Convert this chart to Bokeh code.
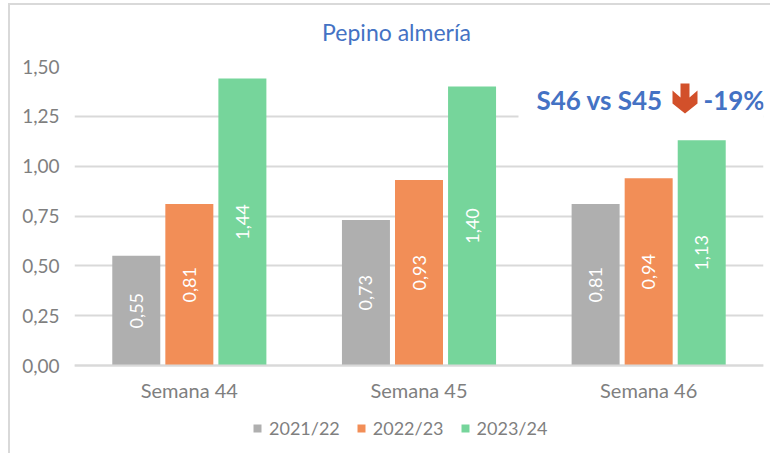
from bokeh.plotting import figure
from bokeh.models import (ColumnDataSource, FactorRange, Range1d, FixedTicker, Label, BoxAnnotation,
                          PolyAnnotation, Legend, LegendItem)
from bokeh.transform import dodge
from bokeh.core.properties import value
from bokeh.embed import file_html
from bokeh.resources import INLINE
import math

semanas = ["Semana 44", "Semana 45", "Semana 46"]
s2122 = [0.55, 0.73, 0.81]
s2223 = [0.81, 0.93, 0.94]
s2324 = [1.44, 1.40, 1.13]
series = ["2021/22", "2022/23", "2023/24"]
colores = ["#AFAFAF", "#F28E57", "#76D59B"]
ticks = [0, 0.25, 0.5, 0.75, 1.0, 1.25, 1.5]
tick_labels = ["0,00", "0,25", "0,50", "0,75", "1,00", "1,25", "1,50"]
titulo = "Pepino almería"
nota_a = "S46 vs S45"
nota_b = "-19%"

FONT = "Lato"
GREY = "#7F7F7F"
LINE = "#D9D9D9"
OX, OY = 10, 5   # figure origin on the page; L-shaped border drawn just outside it
PX_PER_UNIT = 299 / 1.5
FRAME_H = 379    # the frame runs on below zero, so that the legend can sit inside it

p = figure(width=762, height=450, frame_width=689, frame_height=FRAME_H,
           output_backend="svg", toolbar_location=None,
           x_range=FactorRange(factors=semanas, range_padding=0, factor_padding=0),
           y_range=Range1d(1.5 - FRAME_H / PX_PER_UNIT, 1.5),
           min_border_left=64, min_border_right=9, min_border_top=61, min_border_bottom=10,
           outline_line_color=None, background_fill_color="white", border_fill_color="white")
p.styles = {"position": "absolute", "left": f"{OX}px", "top": f"{OY}px",
            "box-shadow": f"-2px -2px 0 0 {LINE}"}

p.xgrid.visible = False
p.ygrid.grid_line_color = LINE
p.ygrid.grid_line_width = 2
p.ygrid.ticker = FixedTicker(ticks=ticks)

p.yaxis.ticker = FixedTicker(ticks=ticks)
p.yaxis.major_label_overrides = dict(zip(ticks, tick_labels))
p.yaxis.axis_line_color = None
p.yaxis.major_tick_line_color = None
p.yaxis.minor_tick_line_color = None
p.yaxis.major_label_text_font = FONT
p.yaxis.major_label_text_font_size = "19px"
p.yaxis.major_label_text_color = GREY
p.yaxis.major_label_standoff = 9

p.xaxis.fixed_location = 0
p.xaxis.axis_line_color = LINE
p.xaxis.axis_line_width = 2
p.xaxis.major_tick_line_color = None
p.xaxis.major_label_text_font = FONT
p.xaxis.major_label_text_font_size = "20px"
p.xaxis.major_label_text_color = GREY
p.xaxis.major_label_standoff = 6

src = ColumnDataSource(dict(cat=semanas, a=s2122, b=s2223, c=s2324,
                            ay=[v / 2 for v in s2122], by=[v / 2 for v in s2223], cy=[v / 2 for v in s2324],
                            al=[f"{v:.2f}".replace(".", ",") for v in s2122],
                            bl=[f"{v:.2f}".replace(".", ",") for v in s2223],
                            cl=[f"{v:.2f}".replace(".", ",") for v in s2324]))

items = []
for col, off, name, color in zip("abc", [-0.231, 0, 0.231], series, colores):
    r = p.vbar(x=dodge("cat", off, range=p.x_range), top=col, width=0.209, bottom=0, source=src,
               fill_color=color, line_color=None)
    items.append(LegendItem(label=name, renderers=[r]))
    p.text(x=dodge("cat", off, range=p.x_range), y=col + "y", text=col + "l", source=src,
           angle=math.pi / 2, text_align="center", text_baseline="middle",
           text_color="white", text_font=value(FONT), text_font_size="18px")

legend = Legend(items=items, orientation="horizontal", location=(178, 6),
                background_fill_alpha=0, border_line_color=None,
                glyph_width=10, glyph_height=10, label_standoff=7, spacing=16,
                label_text_font=FONT, label_text_font_size="18px", label_text_color=GREY,
                padding=0, margin=0)
p.add_layout(legend, "center")

# text box of the note, masks the gridline
p.add_layout(BoxAnnotation(left=518 - OX, right=770 - OX, top=80 - OY, bottom=136 - OY,
                           left_units="canvas", right_units="canvas",
                           top_units="canvas", bottom_units="canvas",
                           fill_color="white", fill_alpha=1, line_color=None))

p.add_layout(Label(x=396 - OX, y=31 - OY, x_units="canvas", y_units="canvas", text=titulo, text_align="center",
                   text_baseline="middle", text_font=FONT, text_font_size="23px", text_color="#4472C4"), "above")
p.add_layout(Label(x=536 - OX, y=99 - OY, x_units="canvas", y_units="canvas", text=nota_a, text_align="left",
                   text_baseline="middle", text_font=FONT, text_font_size="26px", text_font_style="bold",
                   text_color="#4472C4"))
p.add_layout(Label(x=703 - OX, y=99 - OY, x_units="canvas", y_units="canvas", text=nota_b, text_align="left",
                   text_baseline="middle", text_font=FONT, text_font_size="26px", text_font_style="bold",
                   text_color="#4472C4"))
p.add_layout(PolyAnnotation(xs=[x - OX for x in [680, 689, 689, 697, 697, 684.5, 672, 672, 680]],
                            ys=[y - OY for y in [83, 83, 97, 90, 103, 113, 103, 90, 97]],
                            xs_units="canvas", ys_units="canvas",
                            fill_color="#D2502A", fill_alpha=1, line_color=None))

open("out.html", "w").write(file_html(p, INLINE))
